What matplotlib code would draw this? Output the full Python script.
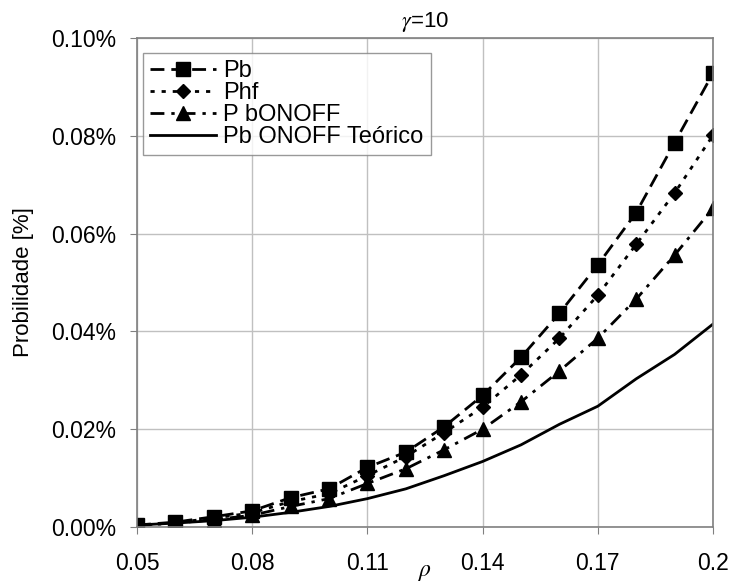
import matplotlib
matplotlib.use("Agg")
import matplotlib.pyplot as plt
from matplotlib.ticker import FuncFormatter

plt.rcParams['font.family'] = ['Liberation Sans', 'DejaVu Sans']
plt.rcParams['mathtext.fontset'] = 'stix'

# rho values
rho = [0.05, 0.06, 0.07, 0.08, 0.09, 0.10, 0.11, 0.12, 0.13, 0.14,
       0.15, 0.16, 0.17, 0.18, 0.19, 0.20]

# probabilities in %
pb = [0.0004, 0.0010, 0.0021, 0.0033, 0.0060, 0.0078, 0.0122, 0.0153,
      0.0205, 0.0269, 0.0347, 0.0437, 0.0536, 0.0643, 0.0786, 0.0928]
phf = [0.0003, 0.0009, 0.0018, 0.0029, 0.0052, 0.0068, 0.0105, 0.0144,
       0.0193, 0.0245, 0.0311, 0.0386, 0.0474, 0.0578, 0.0683, 0.0801]
pb_onoff = [0.0003, 0.0008, 0.0015, 0.0024, 0.0042, 0.0058, 0.0089, 0.0119,
            0.0158, 0.0200, 0.0256, 0.0319, 0.0386, 0.0466, 0.0556, 0.0652]
pb_teorico = [0.0004, 0.0008, 0.0013, 0.0020, 0.0030, 0.0042, 0.0058, 0.0078,
              0.0105, 0.0134, 0.0168, 0.0210, 0.0247, 0.0303, 0.0353, 0.0415]

xticks = [0.05, 0.08, 0.11, 0.14, 0.17, 0.2]
xticklabels = ["0.05", "0.08", "0.11", "0.14", "0.17", "0.2"]
yticks = [0.0, 0.02, 0.04, 0.06, 0.08, 0.10]

fig = plt.figure(figsize=(7.31, 5.86), dpi=100)
# axes box: x 137..713 px, y 38..527 px
ax = fig.add_axes([137 / 731, 1 - 527 / 586, 576 / 731, 489 / 586])

ax.plot(rho, pb, color="black", lw=2, linestyle=(0, (5, 2.5)),
        marker="s", markersize=9.5, label="Pb")
ax.plot(rho, phf, color="black", lw=2, linestyle=(0, (1.5, 2.5)),
        marker="D", markersize=7, label="Phf")
ax.plot(rho, pb_onoff, color="black", lw=2, linestyle=(0, (5, 2.5, 1.2, 2.5)),
        marker="^", markersize=10, label="P bONOFF")
ax.plot(rho, pb_teorico, color="black", lw=2, linestyle="-",
        label="Pb ONOFF Teórico")

ax.set_xlim(0.05, 0.2)
ax.set_ylim(0, 0.10)
ax.set_xticks(xticks)
ax.set_xticklabels(xticklabels)
ax.set_yticks(yticks)
ax.yaxis.set_major_formatter(FuncFormatter(lambda v, p: f"{v:.2f}%"))

ax.grid(True, color="#c0c0c0", lw=1)
ax.set_axisbelow(True)
for s in ax.spines.values():
    s.set_color("#808080")
    s.set_linewidth(1.2)
ax.tick_params(axis="both", direction="out", length=5, color="#808080",
               labelsize=16.5)
ax.tick_params(axis="y", pad=10)
ax.tick_params(axis="x", pad=13)

ax.set_title(r"$\gamma$=10", fontsize=16, pad=8)
ax.set_ylabel("Probilidade [%]", fontsize=16, labelpad=12)
ax.text(0.50, -0.093, r"$\rho$", transform=ax.transAxes, fontsize=17,
        ha="center", va="center")

leg = ax.legend(loc="upper left", bbox_to_anchor=(0.0104, 0.969), fontsize=17,
                frameon=True, fancybox=False, edgecolor="#808080",
                handlelength=2.8, handletextpad=0.3, labelspacing=0.0,
                borderpad=0.3, borderaxespad=0.0)
leg.get_frame().set_linewidth(1)

fig.savefig("out.png", dpi=100)
